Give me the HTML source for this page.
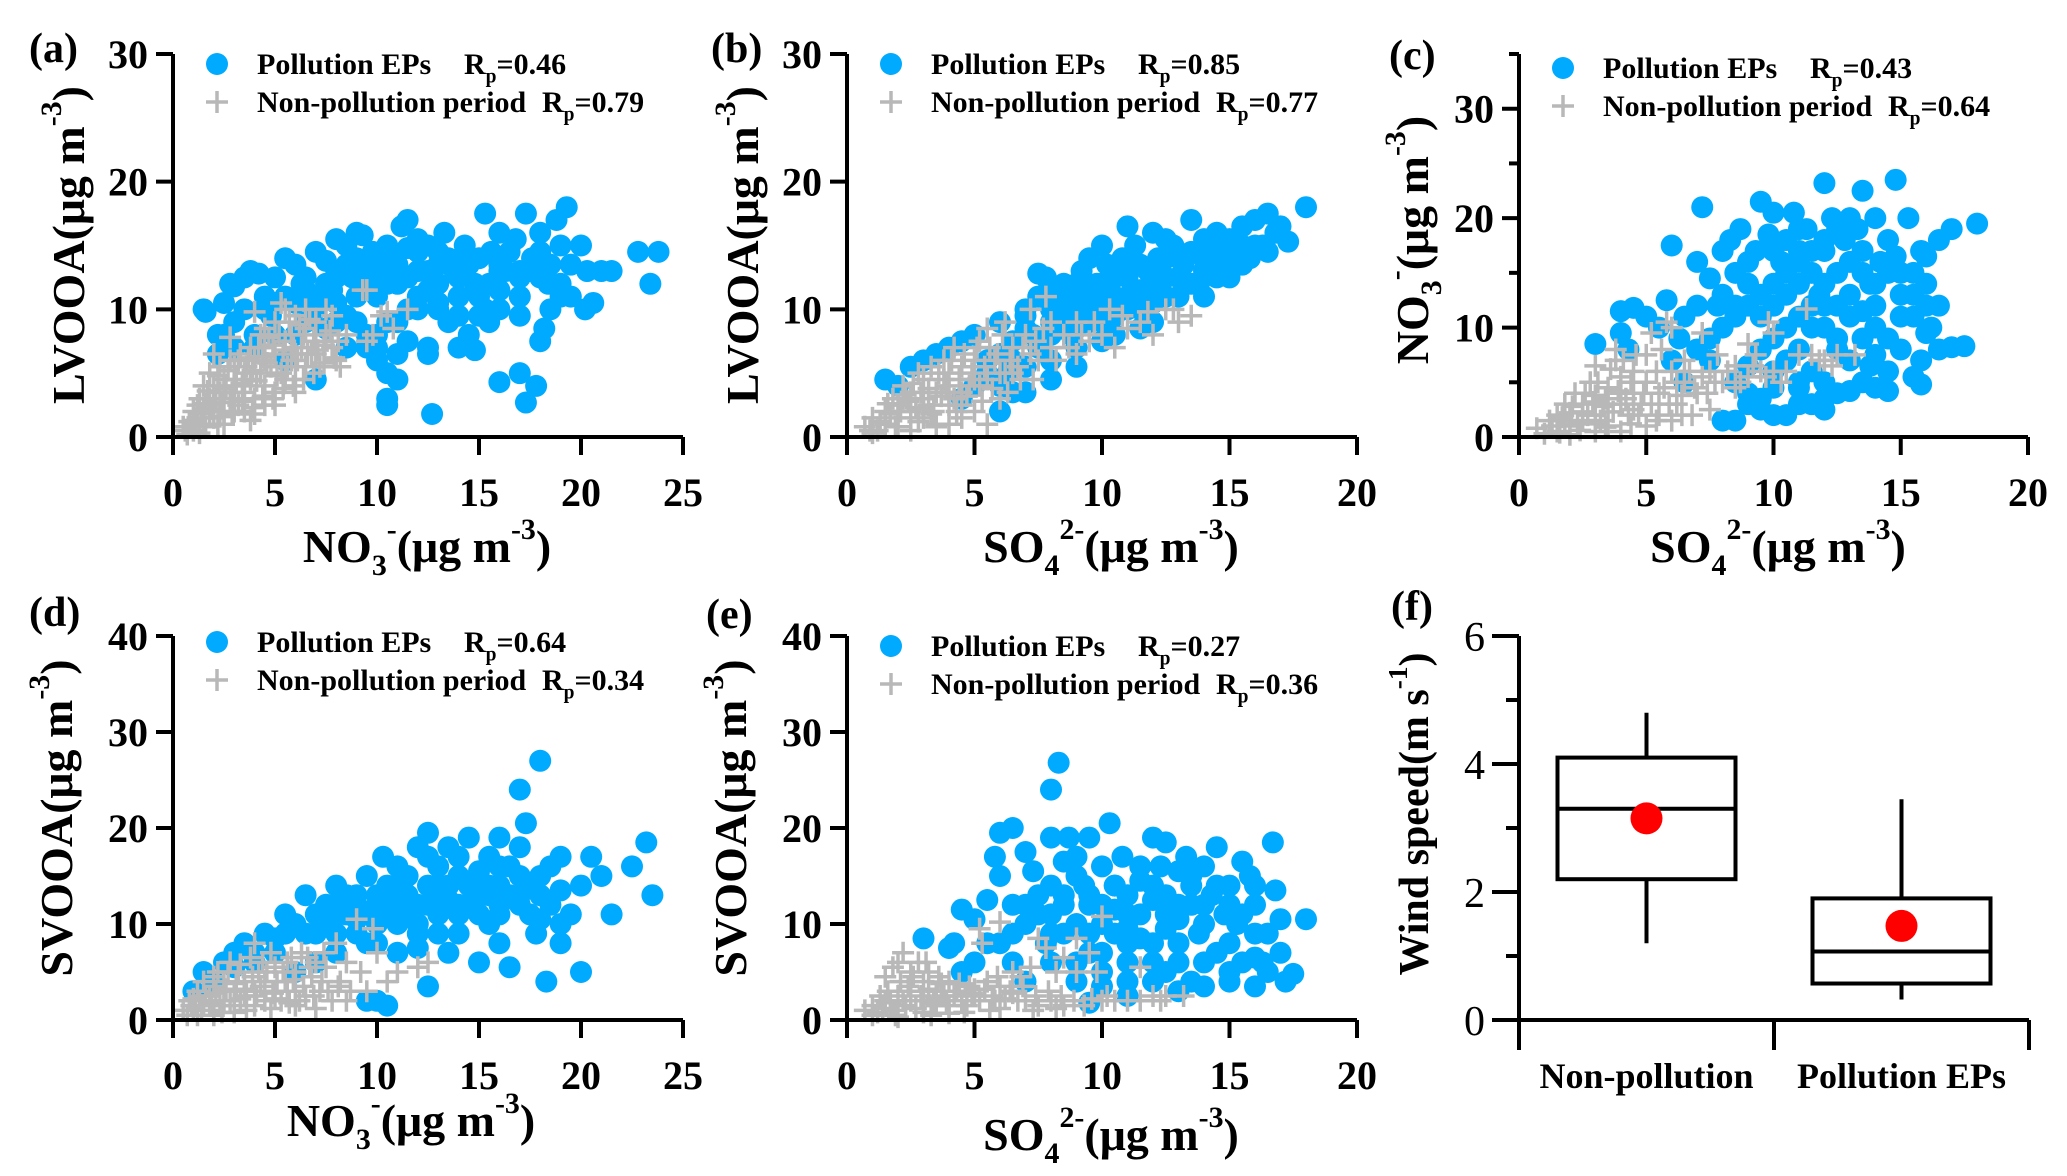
<!DOCTYPE html>
<html><head><meta charset="utf-8"><style>
html,body{margin:0;padding:0;background:#fff;}
svg{display:block;font-family:"Liberation Serif","Times New Roman",serif;}
</style></head><body>
<svg id="fig" width="2067" height="1176" viewBox="0 0 2067 1176" xmlns="http://www.w3.org/2000/svg"></svg>
<script>
// ---------- data ----------
const aBlue=[[1.5,10],[1.6,9.8],[2.2,8],[2.5,10.5],[2.8,12],[3,11.8],[3.5,12.5],[3.8,13],[4.2,12.8],[4.5,11],[5,12.5],[5.5,14],[6,13.5],[6.3,12],[7,14.5],[7.5,13.8],[8,15.5],[8.5,15],[9,16],[9.3,15.8],[9.8,14.5],[10.3,13],[10.8,14],[11.2,16.5],[11.5,17],[12,14.5],[12.5,15],[13,13.5],[13.3,16],[13.8,13],[14.3,15],[14.8,12],[15.3,17.5],[15.6,14.5],[16,16],[16.3,13],[16.8,15.5],[17.3,17.5],[17.6,14],[18,16],[18.4,12],[18.8,17],[19.3,18],[19.5,13.5],[20,15],[20.3,13],[20.6,10.5],[21,13],[21.5,13],[22.8,14.5],[23.4,12],[23.8,14.5],[6.5,9],[7.5,8.5],[8.5,9.5],[9,11],[9.5,7],[10,6],[10.5,5],[10.5,3],[10.5,2.5],[11,4.5],[11.5,7.5],[12.5,6.5],[12.5,7],[12.7,1.8],[13.5,9],[14,7],[14.5,8],[14.8,6.8],[15.3,10],[15.5,9],[16,4.3],[17,5],[17.3,2.7],[17.8,4],[18,7.5],[18.2,8.5],[18.5,10],[19,11],[20.2,10],[7,4.5],[5.5,6],[4,8],[3,7],[2.2,6.5],[3,9],[4.8,9.5],[6,10.5],[7.8,11.5],[8.8,12.5],[10,11],[11,12],[12,11],[13,12],[14,11],[15,11],[16,11.5],[17,11],[18,12.5],[19,12],[11.5,14.8],[9.5,12],[8,9],[9.5,8],[10.5,9],[11.5,10],[12.5,13],[14,13.5],[16,13.5],[10,13],[9,14],[8,13],[6.5,11.5],[5,10.5],[17,13],[13,14.5],[5.5,11],[6.5,12.5],[7,11],[7.5,12],[8,12.5],[8.5,13.5],[9,13],[9.5,13.5],[10,14],[10.5,12],[11,13.5],[11.5,12.5],[12,13],[12.5,11.5],[13,10.5],[13.5,14],[14,12.5],[14.5,13.5],[15,14],[15.5,12],[16,13],[16.5,14.5],[17,12.5],[17.5,13],[18,14.5],[18.5,13.5],[19,15],[19.5,11],[12,15.5],[10.5,15],[9,9],[10,8],[11,9],[12,10],[13,10],[7,10],[8,10.5],[6,8],[5,8],[4,7],[3.5,10],[4.5,10],[2.5,8],[15,9.5],[16,10],[17,9.5],[14,9.5],[10,7],[11,6.5],[8.5,7]];
const aGray=[[0.5,0.8],[0.8,1.2],[1,0.5],[1,2],[1.2,1.5],[1.3,3],[1.5,2.2],[1.5,4],[1.8,3],[1.8,5],[2,2.5],[2,4],[2,6.5],[2.3,3.5],[2.3,5.5],[2.5,2],[2.5,4.5],[2.8,3],[2.8,6],[2.8,7.8],[3,4],[3,5.5],[3.2,2.5],[3.3,6.5],[3.5,3.5],[3.5,5],[3.8,4.5],[3.8,7],[4,3],[4,6],[4,9.8],[4.3,5],[4.3,8],[4.5,4],[4.5,7],[4.5,8.5],[4.8,5.5],[5,6.5],[5,3.5],[5,9],[5.3,10.5],[5.3,5],[5.5,7.5],[5.5,10],[5.8,6],[5.8,8],[6,4.5],[6,9.5],[6.3,7],[6.5,5.5],[6.5,8.5],[6.5,10],[6.8,6.5],[7,7.5],[7,9],[7.2,5.5],[7.5,8],[7.5,10],[7.8,9.5],[7.8,7],[8,6],[8.2,5.5],[8.5,8],[9.3,11.5],[9.5,11.5],[9.5,7.5],[9.8,8],[10.2,9.5],[10.5,9.8],[10.8,8.5],[11.5,10],[1,1],[1.5,1],[2,1.5],[2.5,1],[3,2],[3.5,2],[4,1.8],[4.5,2.5],[5,2.5],[1.3,0.3],[0.7,0.2],[2.2,1],[3.8,1.3],[6,6.5],[5.5,4.5],[4.5,6],[3.5,4],[2.5,3.5],[7,6.5],[6,3.5],[3,3],[1.8,2],[0.6,0.5],[0.9,0.8],[1.1,1.3],[1.4,1.8],[1.6,2.6],[1.9,2.2],[2.1,3],[2.4,2.7],[2.6,3.8],[2.9,3.5],[3.1,4.5],[3.4,4.2],[3.6,5.5],[3.9,5.2],[4.1,4.4],[4.4,6.3],[4.6,5.8],[4.9,7.2],[5.1,4.8],[5.4,6.8],[5.6,5.5],[5.9,7],[6.1,6],[6.4,8],[6.6,6.5],[6.9,7.5],[7.1,6.8],[7.4,7.2],[7.7,8.3],[8.1,7.5],[1.2,2.5],[1.7,3.6],[2.2,4.8],[2.7,5.2],[3.2,6],[3.7,6.2],[4.2,7],[4.7,7.8],[5.2,8],[5.7,9],[6.2,8.8],[6.7,9.2],[1.6,0.8],[2.3,1.6],[2.9,1.8],[3.4,2.8],[3.9,2.3],[4.4,3.2],[4.9,3],[5.4,3.8],[5.9,4],[6.4,4.5],[6.9,5],[7.4,5.8],[7.9,6.2]];
const bBlue=[[1.5,4.5],[2,4],[2.5,5.5],[3,6],[3.5,6.5],[4,7],[4.5,7.5],[5,8],[5.5,6],[6,9],[6.3,5],[6.5,7.5],[7,10],[7.3,8],[7.5,11],[7.8,12.5],[8,9],[8.3,10],[8.5,12],[8.8,8],[9,11],[9.2,13],[9.5,10],[9.8,12],[10,9],[10.2,13.5],[10.5,11],[10.8,14],[11,10],[11,12.5],[11.3,15],[11.5,11.5],[11.8,13],[12,10.5],[12.2,14],[12.5,12.5],[12.8,15],[13,11],[13.2,13.5],[13.5,14.5],[13.8,12],[14,15.5],[14.2,13],[14.5,16],[14.8,14],[15,12.5],[15.2,15],[15.5,16.5],[15.8,14],[16,17],[16.3,15],[16.5,17.5],[16.8,16],[17.3,15.3],[18,18],[9.5,14],[10,15],[8,11.5],[7,8.5],[6,6.5],[5,4],[4.5,3],[6.5,3.5],[6,2],[9,5.5],[8,4.5],[12,16],[13.5,17],[11,16.5],[7.5,12.8],[10,7.5],[12,9],[14,11],[15,13],[9,7],[10.5,12.5],[11.5,13.5],[12.5,14],[13,12.5],[14.5,14.5],[9.5,11.5],[8.5,10.5],[15.5,15],[7,9.5],[8,10],[8.5,9],[9,10],[9.5,9],[10,10.5],[10.5,9.5],[11,11],[11.5,10],[12,11.5],[12.5,11],[13,12.5],[13.5,12],[14,13],[14.5,12.5],[15,14],[15.5,13.5],[16,15],[16.5,14.5],[17,16.5],[9,12],[10,12],[11,13.5],[12,13],[13,14],[14,14],[15,15.5],[12.5,15.5],[8,8],[7.5,7],[6.5,6],[5.5,5],[6,4],[7,5.5],[8,6],[9,8.5],[10.5,8],[11.5,8.5],[7,3.5]];
const bGray=[[0.7,0.8],[1,1.5],[1.2,0.5],[1.5,2],[1.5,1],[1.8,3],[2,1.5],[2,2.5],[2.2,4],[2.5,2],[2.5,3.5],[2.8,5],[3,1.5],[3,3],[3,4.5],[3.2,2.5],[3.3,5.5],[3.5,3.5],[3.5,1],[3.8,4.5],[3.8,6],[4,2.5],[4,5],[4.2,7],[4.5,3.5],[4.5,5.5],[4.8,4],[5,6],[5,2],[5.2,7.5],[5.5,4.5],[5.5,8.5],[5.8,6],[6,5],[6.2,9],[6.5,7],[6.8,4.5],[7,8],[7.2,10],[7.5,6],[7.8,11],[8,7],[8,9],[8.5,8],[9,6.5],[9,9],[9.5,7.5],[10,8],[10.3,10],[10.5,7],[11,8.5],[11.5,9],[12,8],[12.5,10],[13,9],[13.5,9.5],[2,0.8],[4,1],[4.5,1.5],[5.5,1],[6,3],[1,0.3],[2.5,0.5],[3.5,0.8],[4,3.5],[3,2.2],[2.2,3],[5,4.5],[4.5,2.5],[6.5,5],[1.3,1.2],[1.7,1.8],[2.1,2],[2.4,2.8],[2.7,2.3],[2.9,3.5],[3.2,3.8],[3.4,2],[3.7,3.2],[3.9,4],[4.2,3],[4.4,4.5],[4.7,3.2],[4.9,5],[5.2,4],[5.4,5.5],[5.7,3.8],[5.9,6.5],[6.2,5],[6.4,6],[6.7,5.5],[6.9,7],[7.2,6.5],[7.4,7.5],[7.7,8.5],[8.2,6],[8.7,7],[9.2,8],[9.7,9],[10.8,9.5],[11.8,9.8],[12.8,10],[1.6,2.6],[2.3,3.3],[2.6,4.2],[3.6,5],[4.1,6],[4.6,6.5],[5.1,7],[5.6,7],[6.1,8],[2.8,1.2],[3.3,1.8],[4.3,2],[5.3,2.8],[6.3,3.5],[7.3,4.5],[0.9,0.5],[1.9,0.8]];
const cBlue=[[3,8.5],[4,11.5],[4.5,11.8],[4,9.5],[4.3,8],[5,11],[5.5,10],[5.8,12.5],[6,17.5],[6.3,9],[6.5,11],[7,12],[7.2,21],[7,16],[7.5,14.5],[7.8,12],[8,17],[8.3,18],[8.5,15],[8.7,19],[8.5,12],[9,14],[9.3,17],[9.5,21.5],[9.8,18.5],[10,20.5],[10,12],[10.3,16],[10.5,18],[10.8,20.5],[11,17],[11,14],[11.3,19],[11.5,15],[11.8,13],[12,23.2],[12,17],[12.3,20],[12.5,15],[12.8,18],[13,16],[13.3,19],[13.5,22.5],[13.5,17],[13.8,14],[14,20],[14.2,16],[14.5,18],[14.8,23.5],[14.8,16.5],[15,13],[15.3,20],[15.5,15],[15.8,17],[16,16.5],[16.5,18],[17,19],[18,19.5],[16,12],[16.2,10],[15.5,11],[15,8],[15.8,7],[16.5,8],[17,8.2],[17.5,8.3],[15.5,5.5],[15.8,4.8],[14.5,9],[14,7.5],[13.5,9],[13.8,6.5],[14,4.5],[14.5,4.2],[13,4.2],[12.5,4],[12,5],[11.5,6],[11,8],[10.5,10],[10,6],[9.5,8],[9,4],[9.5,2.5],[10,2],[10.5,2],[11,3],[11.5,3],[12,2.5],[8.5,1.5],[8,1.5],[8.5,5],[9,6.5],[10,9],[11,11],[12,12],[13,11],[14,12],[12.5,8],[11,5],[9.5,3.5],[7.5,7],[6.5,5],[12.5,9],[13,13],[11.5,10],[12,14],[10.5,13],[13.5,11.5],[6,7],[7,8],[7.5,9],[8,10],[8.5,11],[9,12],[9.5,13],[10,14],[10.5,15],[11,16],[11.5,17],[12,18],[12.5,19],[13,20],[13.5,15],[14,14],[14.5,15],[15,15],[15.5,13],[16.5,12],[16,14],[8,13],[9,16],[10,17],[11,19],[11.5,12],[12,10],[12.5,12],[13,7],[14,10],[15,11],[16,9.5],[14.5,6],[13.5,5],[12,3.5],[11,4.5],[10,4.5],[9,3],[10.5,7],[9.5,11]];
const cGray=[[0.7,0.8],[1,0.3],[1.2,1.5],[1.5,0.5],[1.5,2],[1.8,3],[2,1],[2,2.2],[2.2,4],[2.5,1.5],[2.5,3],[2.8,5],[3,2],[3,3.8],[3,6.5],[3.3,2.8],[3.5,4.5],[3.5,1],[3.8,7],[3.8,8],[4,3],[4,5.5],[4.3,2],[4.5,4],[4.5,6],[4.8,3],[5,5],[5,7.5],[5.2,9.5],[5.5,4],[5.5,2],[5.8,10.5],[6,6],[6,10],[6.2,3],[6.5,5],[6.5,7],[6.8,2],[7,4],[7.2,9.5],[7.5,6],[7.5,2.5],[7.8,7.5],[8,5],[8.5,4.5],[8.5,6.5],[9,8.5],[9,5.5],[9.3,7.5],[9.5,6],[9.8,10.5],[10,9.5],[10,6],[10.5,6],[11.3,11.7],[11.5,7.5],[12,7],[12.5,7.5],[13.2,7.5],[2,0.2],[4,0.5],[5,1],[6,1.5],[3,0.5],[2.5,2.3],[3.5,3],[4,4],[1.8,1.5],[4.5,2.5],[3,1.2],[1.3,1],[1.7,1.8],[2.1,2.8],[2.3,1.2],[2.7,2],[2.9,3.2],[3.2,1.5],[3.4,3.5],[3.7,2.3],[3.9,4.2],[4.2,3.5],[4.4,5],[4.7,2],[4.9,4],[5.2,3],[5.4,6],[5.7,4.5],[5.9,3],[6.2,5],[6.4,3.8],[6.7,6],[6.9,4.5],[7.2,5.5],[7.4,4],[7.7,5],[8.2,6],[8.7,5],[9.2,6.5],[9.7,5.5],[10.3,5],[11,7.5],[11.8,7],[12.3,6.5],[1.6,0.4],[2.4,0.6],[3.4,0.9],[4.4,1.2],[5.4,1.5],[6.4,2],[3.6,6.2],[4.1,7],[4.6,7.5],[5.6,8],[2.6,4],[3.1,5]];
const dBlue=[[1,3],[1.5,5],[2,4],[2.5,6],[3,5.5],[3.5,8],[4,7],[4.5,9],[5,8.5],[5.5,11],[6,10],[6.5,13],[7,9],[7.5,12],[8,14],[8.5,11],[9,13],[9.5,15],[9.5,8],[10,12],[10,2],[10.3,17],[10.5,14],[11,10],[11,16],[11.5,13],[12,18],[12,9],[12.5,19.5],[12.5,14],[13,16],[13,11],[13.5,18],[13.5,7],[14,15],[14.5,19],[14.5,12],[15,13],[15,6],[15.5,17],[15.5,10],[16,19],[16,14],[16.5,5.5],[16.5,16],[17,24],[17,12],[17.3,20.5],[17.5,14],[17.8,9],[18,27],[18,13],[18.3,4],[18.5,16],[19,17],[19,8],[19.5,11],[20,14],[20,5],[20.5,17],[21,15],[21.5,11],[22.5,16],[23.2,18.5],[23.5,13],[9.5,2],[10.5,1.5],[8,7],[12,7.5],[14,9],[16,11],[18,10.5],[15,15.5],[11,12.5],[13,13.5],[17,15],[19,13.5],[10,10],[7,6],[6,5],[14,17],[16,8],[12.5,3.5],[9,10.5],[8,11],[11.5,15],[13.5,12.5],[15.5,13],[3,7],[4,6],[5,7],[5.5,9],[6.5,9],[7,11],[7.5,10],[8,12],[8.5,13],[9,12],[9.5,11],[10,13],[10.5,11],[11,14],[11.5,11],[12,12],[12.5,12],[13,14],[13.5,14],[14,12],[14.5,14],[15,11],[15.5,14],[16,12],[16.5,13],[17,13],[17.5,11],[18,15],[18.5,12],[19,10],[8,9],[9,9],[10,8],[11,7],[12,10],[13,9],[14,11],[16,16],[17,18],[12.5,17]];
const dGray=[[0.5,1],[0.8,2],[1,1],[1.2,3],[1.5,1.5],[1.5,4],[1.8,2.5],[2,1],[2,3.5],[2.2,5],[2.5,2],[2.5,4],[2.8,6],[3,3],[3,1.5],[3.2,5],[3.5,2.5],[3.5,4],[3.8,6.5],[4,3],[4,1.5],[4.2,5],[4.5,2],[4.5,4],[4.8,7],[5,3],[5,5.5],[5.3,2],[5.5,4],[5.8,6.5],[6,3],[6,5],[6.3,7],[6.5,2.5],[6.8,4.5],[7,6],[7.2,3],[7.5,5.5],[7.8,2],[8,8],[8.2,4],[8.5,6],[8.5,2],[9,10.5],[9.2,5],[9.5,3],[9.8,9.5],[10,7],[10.5,4],[11,5],[12,5.5],[12.5,6],[2,0.5],[3,0.8],[6,1.5],[7,1.2],[4,8],[1,2.2],[2.5,3],[3.5,3.2],[5,2.2],[1.8,1.5],[0.7,0.5],[1.1,1.5],[1.3,2],[1.6,2.5],[1.9,1.8],[2.1,2.8],[2.3,1.5],[2.6,3.2],[2.8,2],[3.1,3.8],[3.3,2.2],[3.6,3],[3.9,4.5],[4.1,2.5],[4.3,3.5],[4.6,5],[4.9,2.8],[5.1,4],[5.4,5],[5.6,3],[5.9,4.2],[6.2,2],[6.4,3.5],[6.7,5.5],[6.9,2.5],[7.3,4],[7.6,3],[8.1,3.5],[8.7,3],[1.2,0.5],[2.4,0.8],[3.6,1],[4.8,1.2],[5.7,1.8],[2,4.5],[2.7,5],[3.3,5.8],[4.4,6],[5.6,6],[6.6,6.5],[7.4,7],[0.9,1.5],[1.4,1]];
const eBlue=[[3,8.5],[4,7.5],[4.2,8],[4.5,11.5],[4.5,5],[5,10.5],[5.5,8],[5.5,12.5],[5.8,17],[6,19.5],[6,15],[6.5,20],[6.5,12],[7,17.5],[7,10],[7.3,15.5],[7.5,13],[7.8,8],[8,24],[8,19],[8.3,26.8],[8.5,16.5],[8.5,12],[8.7,19],[9,17],[9,10],[9.3,14],[9.5,19],[9.5,7],[10,12],[10,16],[10.3,20.5],[10.5,9],[10.8,17],[11,13],[11,6],[11.5,11],[11.5,14.5],[12,19],[12,8],[12.3,16],[12.5,18.5],[12.5,11],[13,15.5],[13,6],[13.3,17],[13.5,12],[13.8,9],[14,16],[14,3.5],[14.3,13],[14.5,18],[14.5,7],[14.8,11],[15,14],[15,5],[15.3,10],[15.5,16.5],[15.5,6],[15.8,15],[16,12],[16,3.5],[16.3,6],[16.5,5],[16.7,18.5],[16.8,13.5],[17,10.5],[17.2,4],[17.5,4.8],[18,10.5],[9,4],[10,3.5],[11,2.5],[12,4],[13,3],[9.5,1.8],[8,6],[6.5,6],[7,4],[8.5,9],[10.5,11.5],[12,12.5],[13.5,14],[11,9.5],[14,10],[15,8],[16,9],[9.5,13],[10.5,14],[12.5,9.5],[13,10.5],[11.5,8.5],[8,11],[5,6],[6,8],[6.5,9],[7,12],[7.5,11],[8,14],[8.5,13],[9,15],[9.5,12],[10,10],[10.5,14],[11,11],[11.5,16],[12,14],[12.5,13],[13,12],[13.5,15],[14,12],[14.5,14],[15,12],[15.5,11],[16,14],[16.5,9],[17,7],[9,6],[10,7],[11,8],[12,6],[13,8],[14,6],[15,4],[16,6.5],[8,9],[9.5,9],[11,4],[12.5,5],[13.5,4],[10,5]];
const eGray=[[0.7,1],[1,1.5],[1.2,0.8],[1.5,2],[1.5,4.5],[1.8,1],[1.8,5.5],[2,2.5],[2,6],[2.2,7],[2.3,1.5],[2.5,3],[2.5,5],[2.8,6],[3,2],[3,4],[3.2,5],[3.5,1.5],[3.5,3],[3.8,2.5],[4,4],[4,1.5],[4.3,3],[4.5,2],[4.8,3.5],[5,2.5],[5.2,9.5],[5.3,8],[5.5,4],[5.8,2],[6,10.2],[6,3.5],[6.5,5],[6.8,4.5],[7,2],[7.2,5.5],[7.5,8.5],[7.5,1.5],[7.8,7.5],[8,2],[8.2,5],[8.5,6.5],[8.5,1.5],[9,8.5],[9,5],[9.3,1.5],[9.5,7],[9.8,5],[10,10.8],[10,2],[10.5,2],[11.5,5.5],[11.5,2],[12,2.5],[12.5,2.5],[13.2,2.5],[2,0.3],[3,0.8],[4,0.7],[6,1.2],[2.5,2],[3.5,2.2],[5,3.2],[6.5,2.8],[1.3,2.5],[1,0.5],[1.4,1.2],[1.7,1.8],[2.2,2],[2.4,3.5],[2.7,1.2],[2.9,2.5],[3.2,3.2],[3.4,1.8],[3.7,3.8],[3.9,2],[4.2,2.5],[4.4,3.8],[4.7,1.5],[4.9,2.8],[5.2,2],[5.4,3.2],[5.7,2.5],[5.9,4.5],[6.2,2.2],[6.4,3],[6.7,2],[6.9,3.5],[7.4,2.5],[7.9,3],[8.4,2.5],[8.9,2],[9.6,2.2],[10.2,2.5],[11,2],[12.3,2],[1.6,3],[2.1,4],[2.6,4.5],[3.1,6],[3.6,4.5],[1.9,0.5],[3.3,0.5],[4.6,0.8],[5.6,1],[7.3,1],[8.2,1.2]];
// box plot (f)
const fCategories=["Non-pollution","Pollution EPs"];
const fWhiskerLow=[1.2,0.32];
const fQ1=[2.2,0.57];
const fMedian=[3.3,1.07];
const fQ3=[4.1,1.9];
const fWhiskerHigh=[4.8,3.45];
const fMean=[3.15,1.47];
// ticks
const xTicks25=[0,5,10,15,20,25];
const xTicks20=[0,5,10,15,20];
const yTicks30=[0,10,20,30];
const yTicks40=[0,10,20,30,40];
const yMinorC=[5,15,25,35];
const yTicksF=[0,2,4,6];
const yMinorF=[1,3,5];

const NS="http://www.w3.org/2000/svg";
const svg=document.getElementById('fig');
function mk(tag,attrs,parent){const e=document.createElementNS(NS,tag);for(const k in attrs)e.setAttribute(k,attrs[k]);(parent||svg).appendChild(e);return e;}

function rich(parent,x,y,segs,size,anchor,rot,weight){
  const t=mk('text',{x:x,y:y,'font-size':size,'font-weight':weight||'bold','text-anchor':anchor||'middle',fill:'#000'},parent);
  if(rot)t.setAttribute('transform','rotate(-90 '+x+' '+y+')');
  let cur=0;
  segs.forEach(s=>{
    const ts=mk('tspan',{},t);
    let target=0,fs=size;
    if(s[1]==='sub'){target=size*0.28;fs=size*0.65;}
    if(s[1]==='sup'){target=-size*0.5;fs=size*0.65;}
    ts.setAttribute('dy',target-cur);cur=target;
    ts.setAttribute('font-size',fs);
    ts.textContent=s[0];
  });
  return t;
}

const panels=[
 {id:'a',blue:aBlue,gray:aGray,X0:173,X1:683,xmax:25,Y0:437,Y1:54,ymax:30,ytop:30,xt:xTicks25,yt:yTicks30,minor:[],rp1:'0.46',rp2:'0.79',ly:64,lab:[29,48],
  xt_title:[[ 'NO','n'],['3','sub'],['-','sup'],['(μg m','n'],['-3','sup'],[')','n']],xtx:427,xty:562,
  yt_title:[['LVOOA(μg m','n'],['-3','sup'],[')','n']],ytx:84,yty:245},
 {id:'b',blue:bBlue,gray:bGray,X0:847,X1:1357,xmax:20,Y0:437,Y1:54,ymax:30,ytop:30,xt:xTicks20,yt:yTicks30,minor:[],rp1:'0.85',rp2:'0.77',ly:64,lab:[711,48],
  xt_title:[['SO','n'],['4','sub'],['2-','sup'],['(μg m','n'],['-3','sup'],[')','n']],xtx:1111,xty:562,
  yt_title:[['LVOOA(μg m','n'],['-3','sup'],[')','n']],ytx:758,yty:245},
 {id:'c',blue:cBlue,gray:cGray,X0:1519,X1:2028,xmax:20,Y0:437,Y1:54,ymax:35,ytop:35,xt:xTicks20,yt:yTicks30,minor:yMinorC,rp1:'0.43',rp2:'0.64',ly:68,lab:[1389,55],
  xt_title:[['SO','n'],['4','sub'],['2-','sup'],['(μg m','n'],['-3','sup'],[')','n']],xtx:1778,xty:562,
  yt_title:[['NO','n'],['3','sub'],['-','sup'],['(μg m','n'],['-3','sup'],[')','n']],ytx:1428,yty:240},
 {id:'d',blue:dBlue,gray:dGray,X0:173,X1:683,xmax:25,Y0:1020,Y1:636,ymax:40,ytop:40,xt:xTicks25,yt:yTicks40,minor:[],rp1:'0.64',rp2:'0.34',ly:642,lab:[29,612],
  xt_title:[['NO','n'],['3','sub'],['-','sup'],['(μg m','n'],['-3','sup'],[')','n']],xtx:411,xty:1136,
  yt_title:[['SVOOA(μg m','n'],['-3','sup'],[')','n']],ytx:72,yty:818},
 {id:'e',blue:eBlue,gray:eGray,X0:847,X1:1357,xmax:20,Y0:1020,Y1:636,ymax:40,ytop:40,xt:xTicks20,yt:yTicks40,minor:[],rp1:'0.27',rp2:'0.36',ly:646,lab:[706,614],
  xt_title:[['SO','n'],['4','sub'],['2-','sup'],['(μg m','n'],['-3','sup'],[')','n']],xtx:1111,xty:1150,
  yt_title:[['SVOOA(μg m','n'],['-3','sup'],[')','n']],ytx:746,yty:818}
];

panels.forEach(p=>{
  const g=mk('g',{});
  
  
  const sx=v=>p.X0+(p.X1-p.X0)*v/p.xmax;
  const sy=v=>p.Y0-(p.Y0-p.Y1)*v/p.ymax;
  const gb=mk('g',{fill:'#00aaff'},g);
  
  
  p.blue.forEach(d=>{const c=mk('circle',{cx:sx(d[0]),cy:sy(d[1]),r:11},gb);
    
    });
  const gg=mk('g',{stroke:'#b8b8b8','stroke-width':3.5},g);
  
  
  p.gray.forEach(d=>{const x=sx(d[0]),y=sy(d[1]);
    const pl=mk('path',{d:`M${x-11} ${y}H${x+11}M${x} ${y-11}V${y+11}`},gg);
    
    });
  const ax=mk('g',{stroke:'#000','stroke-width':4,fill:'none'},g);
  
  
  mk('path',{d:`M${p.X0} ${sy(p.ytop)}V${p.Y0+18}`},ax);
  mk('path',{d:`M${p.X0-17} ${p.Y0}H${p.X1}`},ax);
  p.xt.forEach(v=>mk('path',{d:`M${sx(v)} ${p.Y0}V${p.Y0+18}`},ax));
  p.yt.forEach(v=>mk('path',{d:`M${p.X0} ${sy(v)}H${p.X0-17}`},ax));
  p.minor.forEach(v=>mk('path',{d:`M${p.X0} ${sy(v)}H${p.X0-10}`},ax));
  p.xt.forEach(v=>{const t=mk('text',{x:sx(v),y:p.Y0+69,'font-size':40,'font-weight':'bold','text-anchor':'middle'},g);t.textContent=v;
    });
  p.yt.forEach(v=>{const t=mk('text',{x:p.X0-25,y:sy(v)+14,'font-size':40,'font-weight':'bold','text-anchor':'end'},g);t.textContent=v;
    });
  const xtT=rich(g,p.xtx,p.xty,p.xt_title,46,'middle',false);
  
  const ytT=rich(g,p.ytx,p.yty,p.yt_title,46,'middle',true);
  
  const lab=mk('text',{x:p.lab[0],y:p.lab[1]+14,'font-size':42,'font-weight':'bold'},g);lab.textContent='('+p.id+')';
  
  const lg=mk('g',{},g);
  
  
  mk('circle',{cx:p.X0+44,cy:p.ly,r:11,fill:'#00aaff'},lg);
  mk('path',{d:`M${p.X0+33} ${p.ly+38}H${p.X0+55}M${p.X0+44} ${p.ly+27}V${p.ly+49}`,stroke:'#b8b8b8','stroke-width':3.5},lg);
  const t1=mk('text',{x:p.X0+84,y:p.ly+10,'font-size':30,'font-weight':'bold'},lg);t1.textContent='Pollution EPs';
  const t2=mk('text',{x:p.X0+84,y:p.ly+48,'font-size':30,'font-weight':'bold'},lg);t2.textContent='Non-pollution period';
  rich(lg,p.X0+291,p.ly+10,[['R','n'],['p','sub'],['=0.'+p.rp1.split('.')[1],'n']],30,'start',false);
  rich(lg,p.X0+369,p.ly+48,[['R','n'],['p','sub'],['=0.'+p.rp2.split('.')[1],'n']],30,'start',false);
});

(function(){
  const g=mk('g',{});
  
  
  const X0=1519,X1=2029,Y0=1020,Y1=636,ymax=6;
  const sy=v=>Y0-(Y0-Y1)*v/ymax;
  const bw=(X1-X0)/fCategories.length;
  const ax=mk('g',{stroke:'#000','stroke-width':4,fill:'none'},g);
  mk('path',{d:`M${X0} ${Y1}V${Y0+30}`},ax);
  mk('path',{d:`M${X0-27} ${Y0}H${X1}`},ax);
  for(let i=0;i<=fCategories.length;i++)mk('path',{d:`M${X0+bw*i} ${Y0}V${Y0+30}`},ax);
  yTicksF.forEach(v=>mk('path',{d:`M${X0} ${sy(v)}H${X0-27}`},ax));
  yMinorF.forEach(v=>mk('path',{d:`M${X0} ${sy(v)}H${X0-13}`},ax));
  yTicksF.forEach(v=>{const t=mk('text',{x:X0-34,y:sy(v)+15,'font-size':42,'text-anchor':'end'},g);t.textContent=v;
    });
  fCategories.forEach((c,i)=>{
    const cx=X0+bw*(i+0.5),half=89;
    const b=mk('g',{stroke:'#000','stroke-width':4,fill:'none'},g);
    
    
    mk('path',{d:`M${cx} ${sy(fWhiskerHigh[i])}V${sy(fQ3[i])}M${cx} ${sy(fQ1[i])}V${sy(fWhiskerLow[i])}`},b);
    mk('rect',{x:cx-half,y:sy(fQ3[i]),width:half*2,height:sy(fQ1[i])-sy(fQ3[i])},b);
    mk('path',{d:`M${cx-half} ${sy(fMedian[i])}H${cx+half}`},b);
    const m=mk('ellipse',{cx:cx,cy:sy(fMean[i]),rx:16,ry:16,fill:'#ff0000',stroke:'none'},g);
    
    const t=mk('text',{x:cx,y:1088,'font-size':36,'font-weight':'bold','text-anchor':'middle'},g);t.textContent=c;
    
  });
  const yt=rich(g,1428,814,[['Wind speed(m s','n'],['-1','sup'],[')','n']],42,'middle',true);
  
  const lab=mk('text',{x:1391,y:620,'font-size':42,'font-weight':'bold'},g);lab.textContent='(f)';
  
})();
</script>
</body></html>
